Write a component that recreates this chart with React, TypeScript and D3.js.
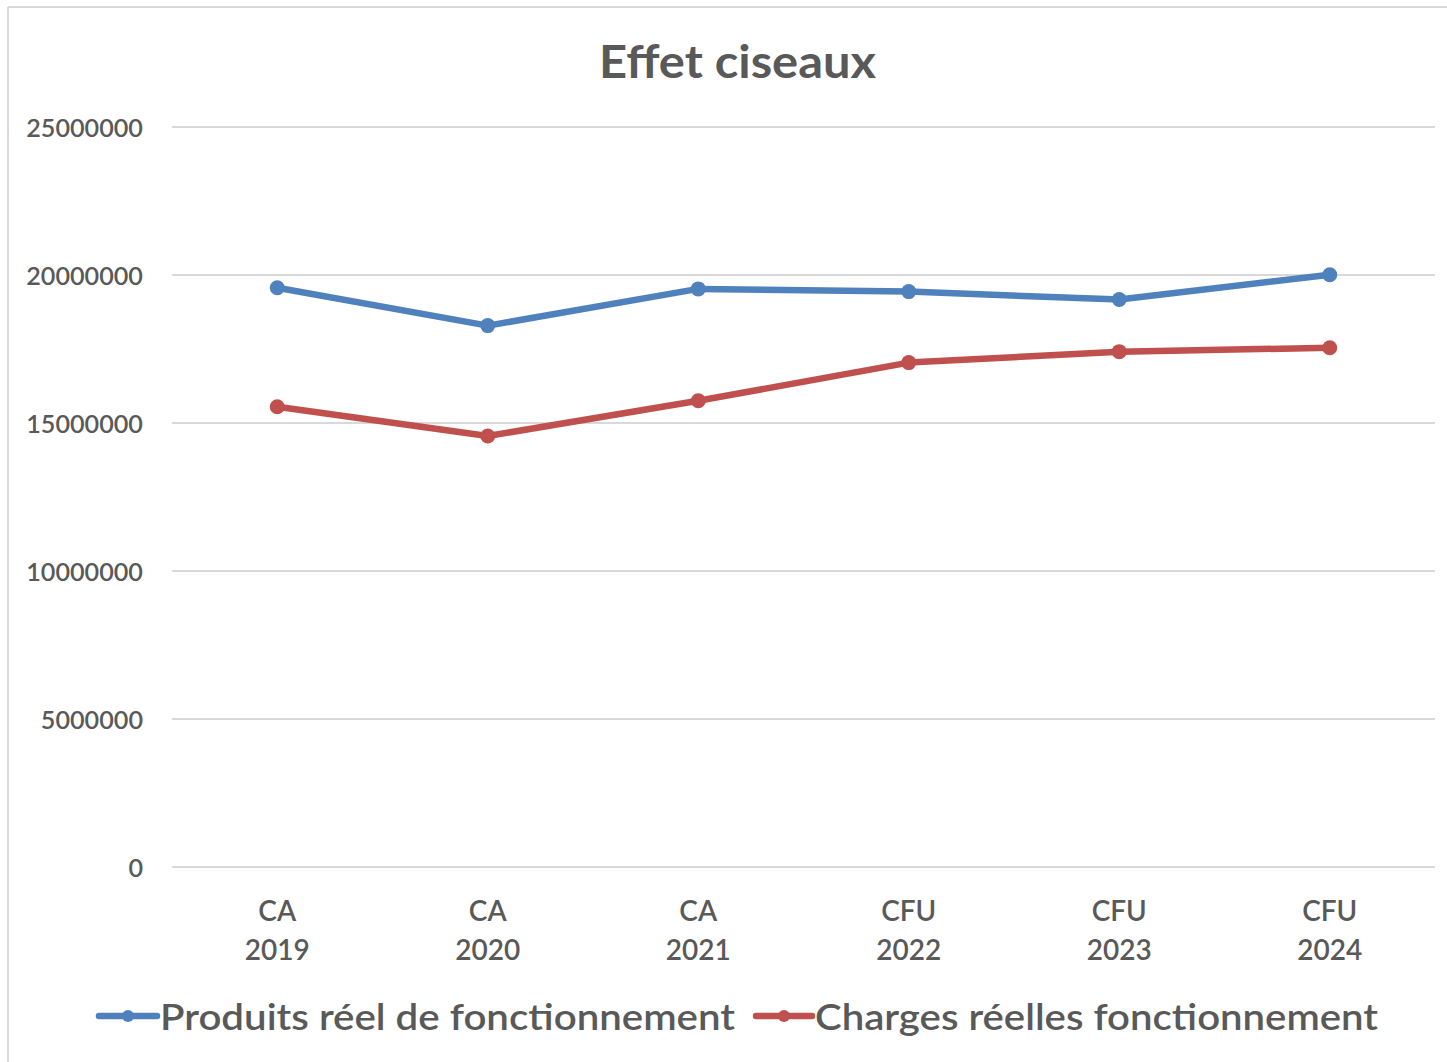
import React from "react";
import * as d3 from "d3";

const categories: string[][] = [
  ["CA", "2019"],
  ["CA", "2020"],
  ["CA", "2021"],
  ["CFU", "2022"],
  ["CFU", "2023"],
  ["CFU", "2024"],
];
const produits: number[] = [19570000, 18290000, 19530000, 19440000, 19170000, 20010000];
const charges: number[] = [15550000, 14560000, 15750000, 17040000, 17410000, 17540000];
const yTicks: number[] = [0, 5000000, 10000000, 15000000, 20000000, 25000000];
const seriesNames: string[] = ["Produits réel de fonctionnement", "Charges réelles fonctionnement"];
const title = "Effet ciseaux";

const W = 1447;
const H = 1062;
const BLUE = "#4f81bd";
const RED = "#c0504d";
const TXT = "#595959";
const GRID = "#d9d9d9";
const FONT = "Lato, 'Open Sans', sans-serif";

export default function App() {
  const keys = categories.map((c) => c.join(" "));
  const x = d3.scaleBand<string>().domain(keys).range([172, 1435]);
  const y = d3.scaleLinear().domain([0, 25000000]).range([867, 127]);
  const cx = (i: number) => (x(keys[i]) as number) + x.bandwidth() / 2;
  const line = d3
    .line<number>()
    .x((_, i) => cx(i))
    .y((d) => y(d));

  const series = [
    { name: seriesNames[0], values: produits, color: BLUE },
    { name: seriesNames[1], values: charges, color: RED },
  ];

  const legend = [
    { x0: 99, x1: 157, tx: 160, tl: 575 },
    { x0: 756, x1: 812, tx: 815, tl: 563 },
  ];

  return (
    <svg width={W} height={H} style={{ position: "absolute", left: 0, top: 0 }}>
      <rect x={0} y={0} width={W} height={H} fill="#fff" />
      <line x1={8} y1={7} x2={W} y2={7} stroke={GRID} strokeWidth={2} />
      <line x1={8} y1={7} x2={8} y2={H} stroke={GRID} strokeWidth={2} />

      <text
        x={737.5}
        y={78}
        textAnchor="middle"
        fontFamily={FONT}
        fontWeight={700}
        fontSize={46}
        fill={TXT}
        textLength={277}
        lengthAdjust="spacingAndGlyphs"
      >
        {title}
      </text>

      {yTicks.map((t) => (
        <g key={t}>
          <line x1={172} x2={1435} y1={y(t)} y2={y(t)} stroke={GRID} strokeWidth={2} />
          <text
            x={143}
            y={y(t) + 9.5}
            textAnchor="end"
            fontFamily={FONT}
            fontWeight={600}
            fontSize={25}
            fill={TXT}
            textLength={String(t).length * 14.6}
            lengthAdjust="spacingAndGlyphs"
          >
            {t}
          </text>
        </g>
      ))}

      {categories.map((c, i) => (
        <text
          key={keys[i]}
          x={cx(i)}
          textAnchor="middle"
          fontFamily={FONT}
          fontWeight={600}
          fontSize={28}
          fill={TXT}
        >
          <tspan x={cx(i)} y={921}>
            {c[0]}
          </tspan>
          <tspan x={cx(i)} y={960}>
            {c[1]}
          </tspan>
        </text>
      ))}

      {series.map((s) => (
        <g key={s.name}>
          <path
            d={line(s.values) || ""}
            fill="none"
            stroke={s.color}
            strokeWidth={6.5}
            strokeLinejoin="round"
            strokeLinecap="round"
          />
          {s.values.map((v, i) => (
            <circle key={i} cx={cx(i)} cy={y(v)} r={7.5} fill={s.color} />
          ))}
        </g>
      ))}

      {series.map((s, k) => {
        const L = legend[k];
        return (
          <g key={"lg" + k}>
            <line
              x1={L.x0}
              x2={L.x1}
              y1={1016}
              y2={1016}
              stroke={s.color}
              strokeWidth={6.5}
              strokeLinecap="round"
            />
            <circle cx={(L.x0 + L.x1) / 2} cy={1016} r={6} fill={s.color} />
            <text
              x={L.tx}
              y={1030}
              fontFamily={FONT}
              fontWeight={600}
              fontSize={37}
              fill={TXT}
              textLength={L.tl}
              lengthAdjust="spacingAndGlyphs"
            >
              {s.name}
            </text>
          </g>
        );
      })}
    </svg>
  );
}
